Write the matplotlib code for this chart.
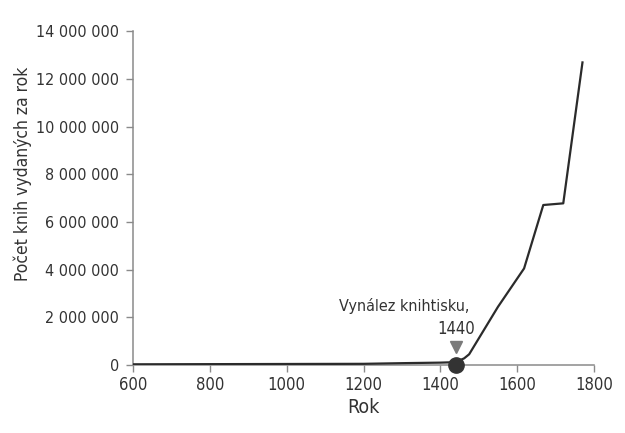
import matplotlib
matplotlib.use("Agg")
import matplotlib.pyplot as plt
from matplotlib.ticker import FuncFormatter

# values
years = [600, 1200, 1310, 1400, 1440, 1462, 1475, 1550, 1618, 1668, 1720, 1770]
books = [30000, 50000, 80000, 100000, 120000, 280000, 450000,
         2440000, 4050000, 6710000, 6780000, 12690000]

x_ticks = [600, 800, 1000, 1200, 1400, 1600, 1800]
y_ticks = [0, 2000000, 4000000, 6000000, 8000000, 10000000, 12000000, 14000000]

invention_year = 1440
invention_text = "Vynález knihtisku,"

plt.rcParams['font.family'] = ['DejaVu Sans']
plt.rcParams['font.stretch'] = 'condensed'
text_col = "#333333"
axis_col = "#8a8a8a"

fig = plt.figure(figsize=(6.25, 4.33), dpi=100)
ax = fig.add_axes([0.2128, 0.157, 0.7376, 0.771])

ax.plot(years, books, color="#2b2b2b", linewidth=1.6, zorder=3)
ax.plot([invention_year], [0], marker="o", markersize=11,
        color="#333333", clip_on=False, zorder=4)
ax.plot([invention_year], [750000], marker="v", markersize=8,
        color="#7a7a7a", clip_on=False, zorder=4)
ax.text(invention_year, 1150000, str(invention_year), ha="center", va="bottom",
        fontsize=12, color=text_col)
ax.text(invention_year + 36, 2150000, invention_text, ha="right", va="bottom",
        fontsize=11.5, color=text_col)

ax.set_xlim(600, 1800)
ax.set_ylim(0, 14000000)
ax.set_xticks(x_ticks)
ax.set_yticks(y_ticks)
ax.yaxis.set_major_formatter(FuncFormatter(lambda v, p: f"{int(v):,}".replace(",", " ")))

for side in ["top", "right"]:
    ax.spines[side].set_visible(False)
for side in ["left", "bottom"]:
    ax.spines[side].set_color(axis_col)
    ax.spines[side].set_linewidth(1.1)

ax.tick_params(direction="out", length=5, width=1, color=axis_col,
               labelcolor=text_col, labelsize=11.5, pad=5)
ax.tick_params(axis="x", pad=3, labelsize=12)

ax.set_xlabel("Rok", fontsize=14, color=text_col, labelpad=3)
ax.set_ylabel("Počet knih vydaných za rok", fontsize=12.5, color=text_col)
ax.yaxis.set_label_coords(-0.22, 0.572)

fig.savefig("out.png", dpi=100)
